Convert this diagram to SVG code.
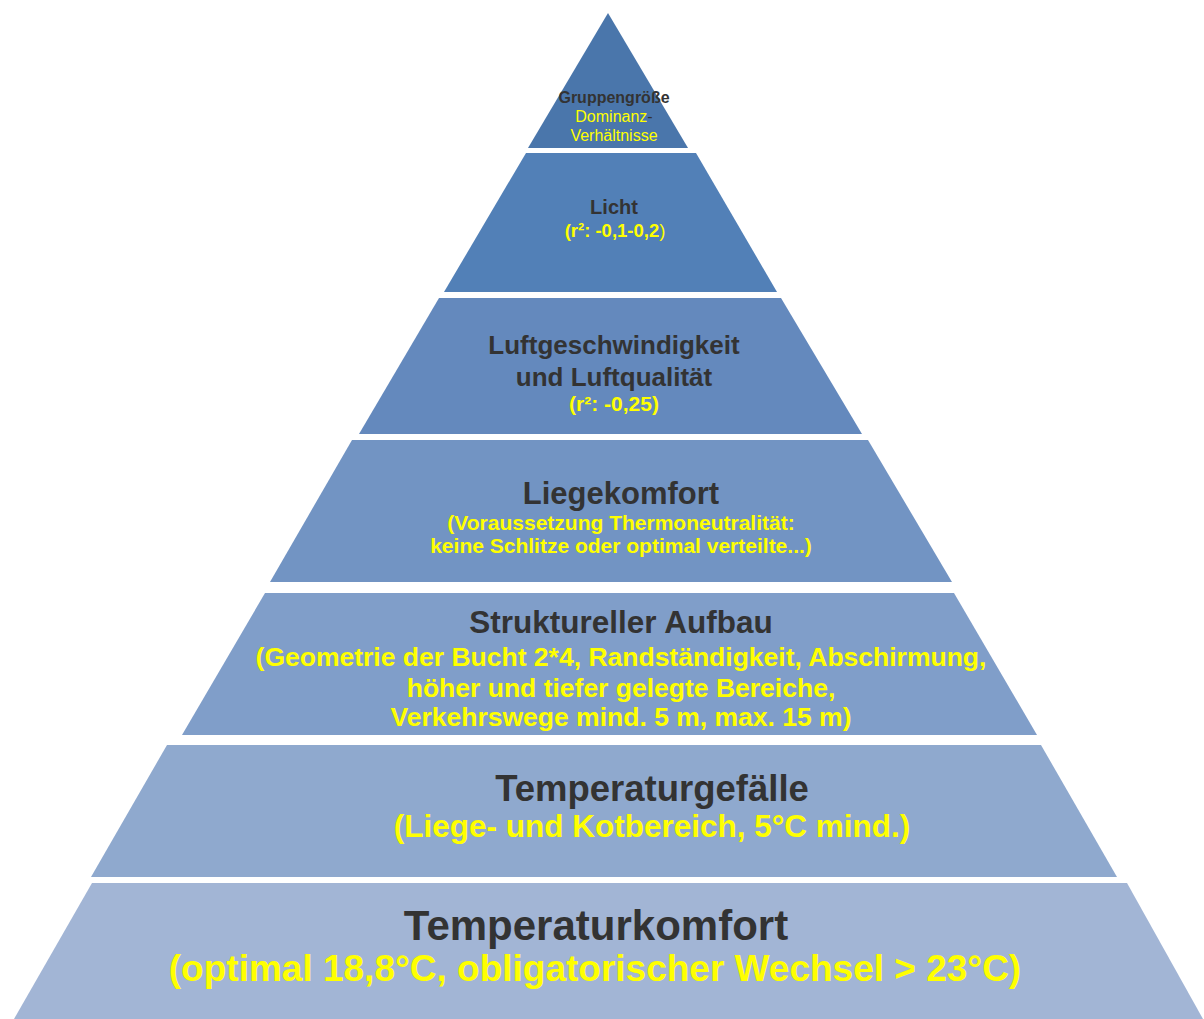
<svg xmlns="http://www.w3.org/2000/svg" width="1204" height="1019" viewBox="0 0 1204 1019">
<style>
text{font-family:"Liberation Sans",Arial,sans-serif;text-anchor:middle}
.t{fill:#333333;font-weight:bold}
.y{fill:#ffff00;font-weight:bold}
.yn{fill:#ffff00;font-weight:normal}
</style>
<rect width="1204" height="1019" fill="#ffffff"/>
<g id="layer1">
<polygon points="608,13 528,148 688,148" fill="#4a76ab"/>
<text class="t" x="614" y="103" font-size="16">Gruppengröße</text>
<text class="yn" x="614" y="122" font-size="16">Dominanz<tspan fill="#333333">-</tspan></text>
<text class="yn" x="614" y="141" font-size="16">Verhältnisse</text>
</g>
<g id="layer2">
<polygon points="526,153 696,153 777,292 444,292" fill="#5280b7"/>
<text class="t" x="614" y="214" font-size="20">Licht</text>
<text class="y" x="615" y="237" font-size="18.5">(r²: -0,1-0,2<tspan font-weight="normal">)</tspan></text>
</g>
<g id="layer3">
<polygon points="439,298 781,298 862,434 359,434" fill="#6489bd"/>
<text class="t" x="614" y="354" font-size="26">Luftgeschwindigkeit</text>
<text class="t" x="614" y="386" font-size="26">und Luftqualität</text>
<text class="y" x="614" y="411" font-size="21">(r²: -0,25)</text>
</g>
<g id="layer4">
<polygon points="352,440 868,440 952,582 270,582" fill="#7294c3"/>
<text class="t" x="621" y="504" font-size="31">Liegekomfort</text>
<text class="y" x="621" y="530" font-size="21">(Voraussetzung Thermoneutralität:</text>
<text class="y" x="621" y="553" font-size="21">keine Schlitze oder optimal verteilte...)</text>
</g>
<g id="layer5">
<polygon points="265,593 954,593 1037,735 182,735" fill="#809ec9"/>
<text class="t" x="621" y="633" font-size="31.5">Struktureller Aufbau</text>
<text class="y" x="621" y="666" font-size="26.5">(Geometrie der Bucht 2*4, Randständigkeit, Abschirmung,</text>
<text class="y" x="621" y="697" font-size="26.5">höher und tiefer gelegte Bereiche,</text>
<text class="y" x="621" y="726" font-size="26.5">Verkehrswege mind. 5 m, max. 15 m)</text>
</g>
<g id="layer6">
<polygon points="167,745 1041,745 1117,877 91,877" fill="#8fa9ce"/>
<text class="t" x="652" y="801" font-size="36.5">Temperaturgefälle</text>
<text class="y" x="652" y="837" font-size="31.5">(Liege- und Kotbereich, 5°C mind.)</text>
</g>
<g id="layer7">
<polygon points="92,883 1127,883 1203,1019 14,1019" fill="#a2b5d5"/>
<text class="t" x="596" y="940" font-size="42">Temperaturkomfort</text>
<text class="y" x="595" y="981" font-size="37">(optimal 18,8°C, obligatorischer Wechsel &gt; 23°C)</text>
</g>
</svg>
